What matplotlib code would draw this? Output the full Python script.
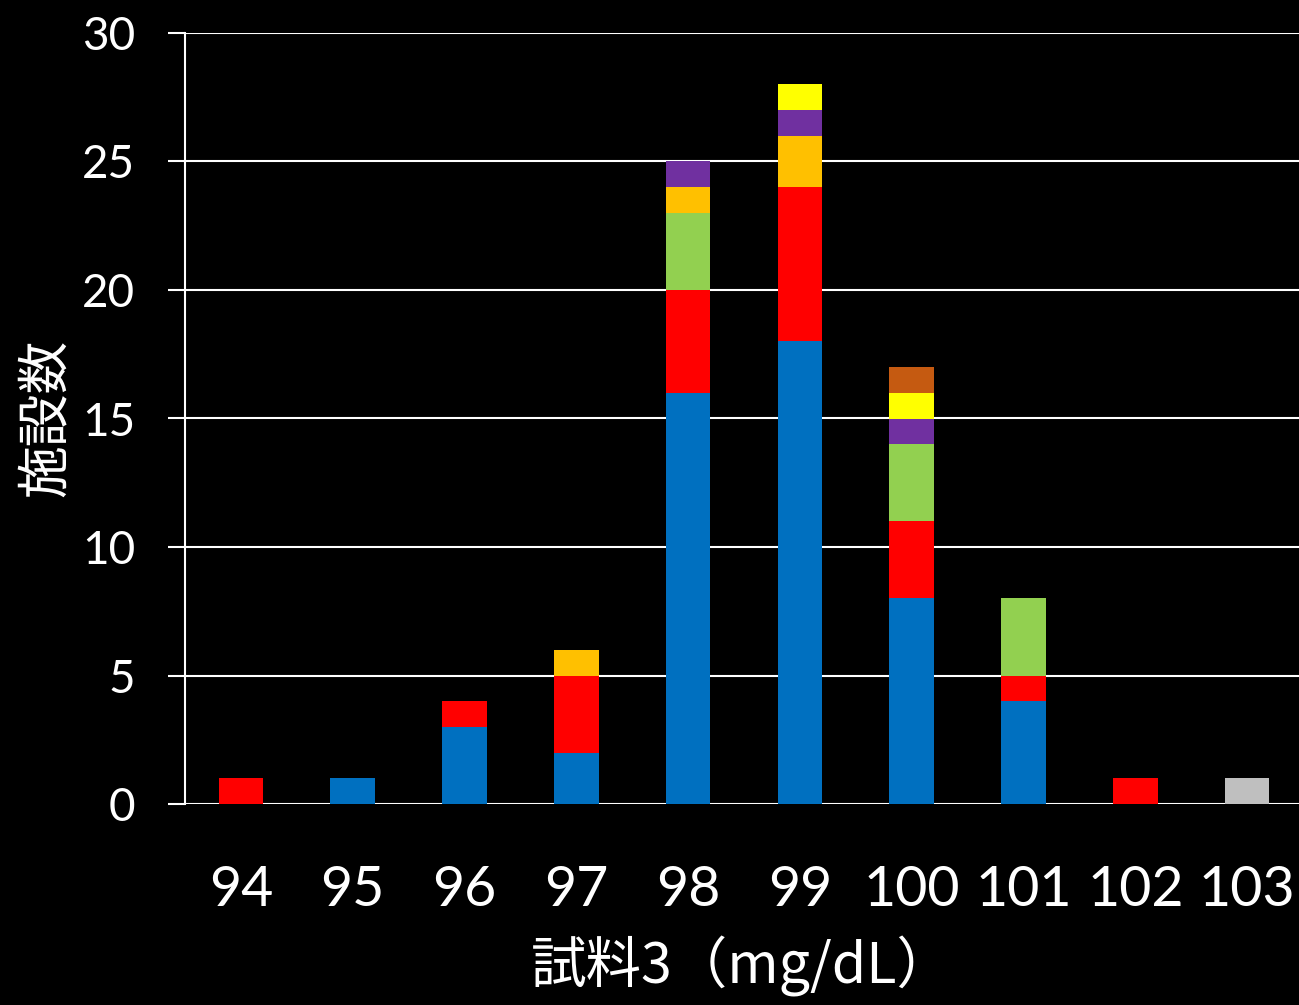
import matplotlib
matplotlib.use("Agg")
import matplotlib.pyplot as plt
import numpy as np

# ---------------------------------------------------------------------------
# Data (stack order bottom -> top)
# ---------------------------------------------------------------------------
categories = ["94", "95", "96", "97", "98", "99", "100", "101", "102", "103"]
blue   = [0, 1, 3, 2, 16, 18, 8, 4, 0, 0]
red    = [1, 0, 1, 3, 4, 6, 3, 1, 1, 0]
green  = [0, 0, 0, 0, 3, 0, 3, 3, 0, 0]
orange = [0, 0, 0, 1, 1, 2, 0, 0, 0, 0]
purple = [0, 0, 0, 0, 1, 1, 1, 0, 0, 0]
yellow = [0, 0, 0, 0, 0, 1, 1, 0, 0, 0]
brown  = [0, 0, 0, 0, 0, 0, 1, 0, 0, 0]
gray   = [0, 0, 0, 0, 0, 0, 0, 0, 0, 1]

series = [blue, red, green, orange, purple, yellow, brown, gray]
colors = ["#0070C0", "#FF0000", "#92D050", "#FFC000",
          "#7030A0", "#FFFF00", "#C55A11", "#BFBFBF"]

NUM_FONT = ["Lato", "DejaVu Sans"]
JP_FONT = ["Noto Sans CJK JP", "DejaVu Sans"]

# ---------------------------------------------------------------------------
# Plot
# ---------------------------------------------------------------------------
W, H = 1299, 1005
fig = plt.figure(figsize=(W / 100, H / 100), dpi=100, facecolor="black")
ax = fig.add_axes([185 / W, 1 - 804 / H, (1303 - 185) / W, (804 - 33) / H])
ax.set_facecolor("black")

x = np.arange(len(categories))
bottom = np.zeros(len(categories))
for vals, c in zip(series, colors):
    vals = np.array(vals, dtype=float)
    ax.bar(x, vals, width=0.4, bottom=bottom, color=c, zorder=3, linewidth=0)
    bottom += vals

ax.set_xlim(-0.5, 9.5)
ax.set_ylim(0, 30)
ax.set_yticks(range(0, 31, 5))
ax.set_xticks(x)
ax.set_xticklabels(categories)

ax.yaxis.grid(True, color="white", linewidth=1.5, zorder=0)
ax.set_axisbelow(True)
for side in ("top", "right", "bottom"):
    ax.spines[side].set_visible(False)
ax.spines["left"].set_color("white")
ax.spines["left"].set_linewidth(1.5)

ax.tick_params(axis="y", colors="white", length=12, width=1.5, pad=24,
               labelsize=33)
ax.tick_params(axis="x", colors="white", length=0, pad=44, labelsize=40)
for lab in ax.get_yticklabels() + ax.get_xticklabels():
    lab.set_family(NUM_FONT)

# x label sits low, just clear of the bottom edge
fig.text(742 / W, 1 - 966 / H, "試料3（mg/dL）", color="white",
         fontsize=40, family=JP_FONT, ha="center", va="center")
fig.text(45 / W, 1 - 418 / H, "施設数", color="white", rotation=90,
         fontsize=38, family=JP_FONT, ha="center", va="center")

fig.savefig("out.png", dpi=100, facecolor="black")
